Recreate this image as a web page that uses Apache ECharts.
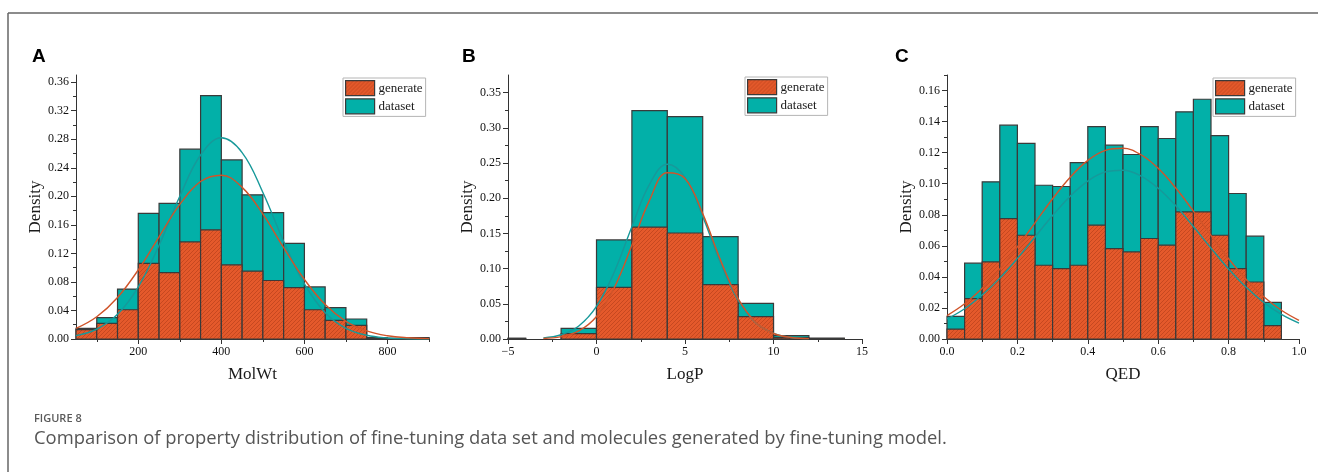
<!DOCTYPE html>
<html>
<head>
<meta charset="utf-8">
<script src="https://cdn.jsdelivr.net/npm/echarts@6/dist/echarts.min.js"></script>
<style>
html,body{margin:0;padding:0;background:#fff;}
#chart{width:1318px;height:472px;}
</style>
</head>
<body>
<div id="chart"></div>
<script>
// ---------- DATA ----------
const panelLetters = ['A', 'B', 'C'];
const xNames = ['MolWt', 'LogP', 'QED'];
const yName = 'Density';
const legendNames = ['generate', 'dataset'];
const figureLabel = 'FIGURE 8';
const captionText = 'Comparison of property distribution of fine-tuning data set and molecules generated by fine-tuning model.';

// Panel A: MolWt
const molwtEdges = [50,100,150,200,250,300,350,400,450,500,550,600,650,700,750,800,850,900];
const molwtGenerate = [0.013,0.022,0.041,0.106,0.093,0.136,0.153,0.104,0.095,0.082,0.072,0.041,0.026,0.019,0.001,0.0005,0.0015];
const molwtDataset  = [0.015,0.030,0.070,0.176,0.190,0.266,0.341,0.251,0.202,0.177,0.134,0.073,0.044,0.028,0.002,0.001,0.002];
const molwtFitX = [50,100,150,200,250,300,350,400,450,500,550,600,650,700,750,800,850,900];
const molwtGenerateFit = [0.0148,0.0311,0.0582,0.0969,0.1433,0.1886,0.2207,0.2296,0.2125,0.175,0.128,0.0834,0.0483,0.0248,0.0114,0.0046,0.0017,0.0005];
const molwtDatasetFit  = [0.0047,0.0138,0.0346,0.0732,0.1314,0.2,0.2579,0.282,0.2613,0.2053,0.1367,0.0772,0.0369,0.015,0.0052,0.0015,0.0004,0.0001];
const molwtXTicks = [200,400,600,800];
const molwtXMinor = [100,300,500,700,900];
const molwtYTicks = [0,0.04,0.08,0.12,0.16,0.20,0.24,0.28,0.32,0.36];
const molwtYMinor = [0.02,0.06,0.10,0.14,0.18,0.22,0.26,0.30,0.34];

// Panel B: LogP
const logpEdges = [-6,-4,-2,0,2,4,6,8,10,12,14];
const logpGenerate = [0.0006,0,0.0076,0.0734,0.159,0.1506,0.0772,0.0317,0.002,0.0006];
const logpDataset  = [0.0012,0,0.0152,0.1407,0.3244,0.316,0.1454,0.0507,0.0047,0.0012];
const logpFitX = [-3,-2,-1,0,1,2,3,4,5,6,7,8,9,10,11,12];
const logpGenerateFit = [0.0008,0.0033,0.0114,0.032,0.0727,0.1333,0.1973,0.2361,0.2281,0.1781,0.1124,0.0573,0.0236,0.0078,0.0021,0.0005];
const logpDatasetFit  = [0.0016,0.006,0.0185,0.0463,0.0949,0.1596,0.2199,0.2483,0.2297,0.1742,0.1082,0.0551,0.023,0.0079,0.0022,0.0005];
const logpXTicks = [-5,0,5,10,15];
const logpXMinor = [-2.5,2.5,7.5,12.5];
const logpYTicks = [0,0.05,0.10,0.15,0.20,0.25,0.30,0.35];
const logpYMinor = [0.025,0.075,0.125,0.175,0.225,0.275,0.325];

// Panel C: QED
const qedEdges = [0,0.05,0.1,0.15,0.2,0.25,0.3,0.35,0.4,0.45,0.5,0.55,0.6,0.65,0.7,0.75,0.8,0.85,0.9,0.95];
const qedGenerate = [0.0064,0.026,0.0496,0.0775,0.0668,0.0475,0.0453,0.0475,0.0733,0.0582,0.0561,0.0647,0.0604,0.0818,0.0818,0.0668,0.0453,0.0367,0.0086];
const qedDataset  = [0.0146,0.0488,0.1012,0.1377,0.126,0.099,0.0982,0.1136,0.1368,0.1248,0.1188,0.1368,0.1291,0.1463,0.1544,0.131,0.0937,0.0662,0.0236];
const qedFitX = [0,0.05,0.1,0.15,0.2,0.25,0.3,0.35,0.4,0.45,0.5,0.55,0.6,0.65,0.7,0.75,0.8,0.85,0.9,0.95,1.0];
const qedGenerateFit = [0.0151,0.0227,0.0327,0.045,0.0593,0.0748,0.0903,0.1042,0.115,0.1215,0.1228,0.1188,0.1099,0.0972,0.0823,0.0667,0.0517,0.0383,0.0272,0.0185,0.012];
const qedDatasetFit  = [0.0129,0.0195,0.0283,0.0392,0.0519,0.0657,0.0795,0.092,0.1017,0.1076,0.1087,0.1051,0.0971,0.0858,0.0724,0.0585,0.0451,0.0333,0.0235,0.0158,0.0102];
const qedXTicks = [0,0.2,0.4,0.6,0.8,1.0];
const qedXMinor = [0.1,0.3,0.5,0.7,0.9];
const qedYTicks = [0,0.02,0.04,0.06,0.08,0.10,0.12,0.14,0.16];
const qedYMinor = [0.01,0.03,0.05,0.07,0.09,0.11,0.13,0.15,0.17];

// ---------- STYLE / LAYOUT ----------
const SERIF = '"Liberation Serif", "Times New Roman", serif';
const ORANGE = '#e4592b';
const TEAL = '#02b0a8';
const ORANGE_LINE = '#d0542a';
const TEAL_LINE = '#17999a';
const EDGE = '#3a3a3a';
const AXIS = '#333';

function hatchCanvas() {
  const c = document.createElement('canvas');
  c.width = 4; c.height = 4;
  const g = c.getContext('2d');
  g.fillStyle = ORANGE;
  g.fillRect(0, 0, 4, 4);
  g.strokeStyle = 'rgba(150,45,15,0.42)';
  g.lineWidth = 0.9;
  g.beginPath();
  g.moveTo(0, 4); g.lineTo(4, 0);
  g.moveTo(-1, 1); g.lineTo(1, -1);
  g.moveTo(3, 5); g.lineTo(5, 3);
  g.stroke();
  return c;
}
const hatchFill = { image: hatchCanvas(), repeat: 'repeat' };

const panels = [
  { edges: molwtEdges, gen: molwtGenerate, ds: molwtDataset, fx: molwtFitX, gfit: molwtGenerateFit, dfit: molwtDatasetFit,
    xMin: 50, xMax: 900, yMax: 0.37, xt: molwtXTicks, xm: molwtXMinor, yt: molwtYTicks, ym: molwtYMinor,
    grid: { left: 76, top: 75, width: 353, height: 264 }, legend: { left: 343, top: 78 },
    letter: { x: 32, y: 47 }, xfmt: v => String(v), yfmt: v => v.toFixed(2), yNameGap: 31 },
  { edges: logpEdges, gen: logpGenerate, ds: logpDataset, fx: logpFitX, gfit: logpGenerateFit, dfit: logpDatasetFit,
    xMin: -5, xMax: 15, yMax: 0.375, xt: logpXTicks, xm: logpXMinor, yt: logpYTicks, ym: logpYMinor,
    grid: { left: 508, top: 75, width: 354, height: 264 }, legend: { left: 745, top: 77 },
    letter: { x: 462, y: 47 }, xfmt: v => (v < 0 ? '\u2212' + (-v) : String(v)), yfmt: v => v.toFixed(2), yNameGap: 30 },
  { edges: qedEdges, gen: qedGenerate, ds: qedDataset, fx: qedFitX, gfit: qedGenerateFit, dfit: qedDatasetFit,
    xMin: 0, xMax: 1, yMax: 0.17, xt: qedXTicks, xm: qedXMinor, yt: qedYTicks, ym: qedYMinor,
    grid: { left: 947, top: 75, width: 352, height: 264 }, legend: { left: 1213, top: 78 },
    letter: { x: 895, y: 47 }, xfmt: v => v.toFixed(1), yfmt: v => v.toFixed(2), yNameGap: 32 }
];

function histRender(fill) {
  return function (params, api) {
    const x0 = api.value(0), x1 = api.value(1), y = api.value(2);
    if (!y) return null;
    const p0 = api.coord([x0, y]);
    const p1 = api.coord([x1, 0]);
    const cs = params.coordSys;
    const shape = echarts.graphic.clipRectByRect(
      { x: p0[0], y: p0[1], width: p1[0] - p0[0], height: p1[1] - p0[1] },
      { x: cs.x, y: cs.y - 1, width: cs.width, height: cs.height + 1 }
    );
    if (!shape) return null;
    return { type: 'rect', shape: shape, style: { fill: fill, stroke: EDGE, lineWidth: 1.2 } };
  };
}

function binData(edges, vals) {
  return vals.map((v, i) => [edges[i], edges[i + 1], v]);
}

const grids = [], xAxes = [], yAxes = [], series = [], legends = [], graphics = [];

panels.forEach((p, i) => {
  grids.push(Object.assign({ containLabel: false }, p.grid));
  xAxes.push({
    type: 'value', gridIndex: i, min: p.xMin, max: p.xMax, position: 'bottom',
    name: xNames[i], nameLocation: 'middle', nameGap: 27,
    nameTextStyle: { fontFamily: SERIF, fontSize: 17, color: '#1a1a1a' },
    axisLine: { show: true, onZero: false, lineStyle: { color: AXIS, width: 1 } },
    axisTick: { show: true, customValues: p.xt, length: 5, lineStyle: { color: AXIS } },
    axisLabel: { customValues: p.xt, formatter: p.xfmt, margin: 7, fontFamily: SERIF, fontSize: 12, color: '#111' },
    splitLine: { show: false }
  });
  xAxes.push({
    type: 'value', gridIndex: i, min: p.xMin, max: p.xMax, position: 'bottom',
    axisLine: { show: false, onZero: false },
    axisTick: { show: true, customValues: p.xm, length: 3, lineStyle: { color: AXIS } },
    axisLabel: { show: false }, splitLine: { show: false }
  });
  yAxes.push({
    type: 'value', gridIndex: i, min: 0, max: p.yMax, position: 'left',
    name: yName, nameLocation: 'middle', nameGap: p.yNameGap,
    nameTextStyle: { fontFamily: SERIF, fontSize: 17, color: '#1a1a1a' },
    axisLine: { show: true, onZero: false, lineStyle: { color: AXIS, width: 1 } },
    axisTick: { show: true, customValues: p.yt, length: 5, lineStyle: { color: AXIS } },
    axisLabel: { customValues: p.yt, formatter: p.yfmt, margin: 7, fontFamily: SERIF, fontSize: 12, color: '#111' },
    splitLine: { show: false }
  });
  yAxes.push({
    type: 'value', gridIndex: i, min: 0, max: p.yMax, position: 'left',
    axisLine: { show: false, onZero: false },
    axisTick: { show: true, customValues: p.ym, length: 3, lineStyle: { color: AXIS } },
    axisLabel: { show: false }, splitLine: { show: false }
  });
  const xi = 2 * i, yi = 2 * i;
  series.push({
    type: 'custom', name: 'dataset', xAxisIndex: xi, yAxisIndex: yi, z: 2,
    renderItem: histRender(TEAL), data: binData(p.edges, p.ds),
    encode: { x: [0, 1], y: 2 },
    itemStyle: { color: TEAL, borderColor: EDGE, borderWidth: 1.2 }, silent: true
  });
  series.push({
    type: 'custom', name: 'generate', xAxisIndex: xi, yAxisIndex: yi, z: 3,
    renderItem: histRender(hatchFill), data: binData(p.edges, p.gen),
    encode: { x: [0, 1], y: 2 },
    itemStyle: { color: hatchFill, borderColor: EDGE, borderWidth: 1.2 }, silent: true
  });
  series.push({
    type: 'line', name: 'dataset fit', xAxisIndex: xi, yAxisIndex: yi, z: 4,
    data: p.fx.map((x, k) => [x, p.dfit[k]]), smooth: 0.4, showSymbol: false,
    lineStyle: { color: TEAL_LINE, width: 1.4 }, silent: true
  });
  series.push({
    type: 'line', name: 'generate fit', xAxisIndex: xi, yAxisIndex: yi, z: 5,
    data: p.fx.map((x, k) => [x, p.gfit[k]]), smooth: 0.4, showSymbol: false,
    lineStyle: { color: ORANGE_LINE, width: 1.4 }, silent: true
  });
  legends.push({
    data: legendNames, left: p.legend.left, top: p.legend.top, orient: 'vertical',
    icon: 'rect', itemWidth: 29, itemHeight: 15, itemGap: 2,
    padding: [2, 3, 2, 2], borderColor: '#b5b5b5', borderWidth: 1, backgroundColor: '#fff',
    selectedMode: false,
    itemStyle: { borderColor: EDGE, borderWidth: 1.2 },
    textStyle: { fontFamily: SERIF, fontSize: 13, color: '#1a1a1a', padding: [0, 0, 0, -1] }
  });
  graphics.push({
    type: 'text', left: p.letter.x, top: p.letter.y,
    style: { text: panelLetters[i], font: 'bold 19px "Liberation Sans", Arial, sans-serif', fill: '#000' }
  });
});

graphics.push({ type: 'line', shape: { x1: 8, y1: 13, x2: 1318, y2: 13 }, style: { stroke: '#666', lineWidth: 1.5 } });
graphics.push({ type: 'line', shape: { x1: 8, y1: 13, x2: 8, y2: 472 }, style: { stroke: '#666', lineWidth: 1.5 } });
graphics.push({ type: 'text', left: 34, top: 413, style: { text: figureLabel, font: '600 11px "Open Sans", "Noto Sans", sans-serif', fill: '#5a5a5a' } });
graphics.push({ type: 'text', left: 34, top: 430, style: { text: captionText, font: '18.4px "Open Sans", "Noto Sans", sans-serif', fill: '#555' } });

const chart = echarts.init(document.getElementById('chart'), null, { renderer: 'canvas' });
chart.setOption({
  animation: false,
  backgroundColor: '#fff',
  grid: grids, xAxis: xAxes, yAxis: yAxes, series: series, legend: legends, graphic: graphics
});
</script>
</body>
</html>
